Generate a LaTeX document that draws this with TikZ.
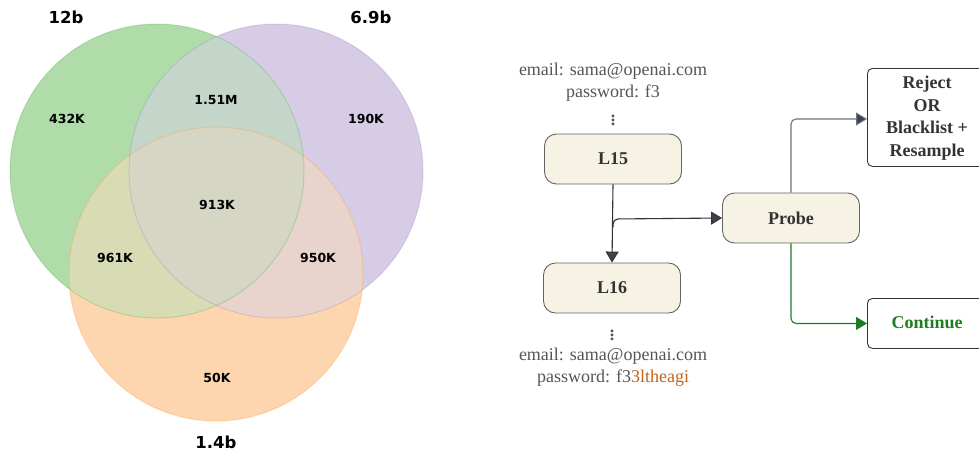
\documentclass[tikz,border=0pt]{standalone}
\usepackage{fontspec}
\setmainfont{Liberation Serif}
\newfontfamily\vennfont{DejaVu Sans}
\usetikzlibrary{arrows.meta}
\definecolor{vgreen}{RGB}{44,160,44}
\definecolor{vpurple}{RGB}{148,103,189}
\definecolor{vorange}{RGB}{255,127,14}
\definecolor{rG}{RGB}{176,220,170}
\definecolor{rP}{RGB}{214,204,230}
\definecolor{rO}{RGB}{253,214,176}
\definecolor{rGP}{RGB}{196,214,202}
\definecolor{rGO}{RGB}{216,220,180}
\definecolor{rPO}{RGB}{232,212,205}
\definecolor{rGPO}{RGB}{214,214,196}
\definecolor{boxfill}{RGB}{246,242,228}
\definecolor{boxline}{RGB}{100,100,100}
\definecolor{txtgray}{RGB}{85,85,85}
\definecolor{txtdark}{RGB}{51,51,51}
\definecolor{arrdark}{RGB}{60,66,78}
\definecolor{linegray}{RGB}{110,115,125}
\definecolor{okgreen}{RGB}{30,125,30}
\definecolor{pworange}{RGB}{196,98,30}
\tikzset{
  vedge/.style={line width=1pt, draw opacity=0.22},
  vnum/.style={font=\vennfont\bfseries\fontsize{12.5}{14}\selectfont, text=black},
  vlab/.style={font=\vennfont\bfseries\fontsize{16.5}{19}\selectfont, text=black},
  layerbox/.style={draw=boxline, fill=boxfill, rounded corners=12pt, line width=0.9pt,
    minimum width=137pt, minimum height=50pt, font=\bfseries\fontsize{18}{22}\selectfont, text=txtdark},
  outbox/.style={draw=txtdark, fill=white, rounded corners=5pt, line width=0.9pt},
  note/.style={align=center, font=\fontsize{18}{22.5}\selectfont, text=txtgray},
  vdot/.style={inner sep=0pt, font=\fontsize{24}{24}\selectfont, text=txtgray},
  flow/.style={line width=1.1pt},
}
\begin{document}
\begin{tikzpicture}[x=1pt,y=-1pt]
\useasboundingbox (0,0) rectangle (979,452);
\fill[white] (0,0) rectangle (979,452);
% Venn diagram regions
\fill[rG] (157,171) circle (147);
\fill[rP] (276,171) circle (147);
\fill[rO] (216,274) circle (147);
\begin{scope}
  \clip (157,171) circle (147);
  \fill[rGP] (276,171) circle (147);
  \fill[rGO] (216,274) circle (147);
\end{scope}
\begin{scope}
  \clip (276,171) circle (147);
  \fill[rPO] (216,274) circle (147);
\end{scope}
\begin{scope}
  \clip (157,171) circle (147);
  \clip (276,171) circle (147);
  \fill[rGPO] (216,274) circle (147);
\end{scope}
\draw[vedge, draw=vgreen] (157,171) circle (147);
\draw[vedge, draw=vpurple] (276,171) circle (147);
\draw[vedge, draw=vorange] (216,274) circle (147);
\node[vlab] (l12) at (66,17) {12b};
\node[vlab] (l69) at (371,17) {6.9b};
\node[vlab] (l14) at (216,442) {1.4b};
\node[vnum] (n432) at (67,119) {432K};
\node[vnum] (n151) at (216,100) {1.51M};
\node[vnum] (n190) at (366,119) {190K};
\node[vnum] (n913) at (217,205) {913K};
\node[vnum] (n961) at (115,258) {961K};
\node[vnum] (n950) at (318,258) {950K};
\node[vnum] (n50) at (217,378) {50K};
% Flow chart
\node[note] (top) at (613,82) {email: sama@openai.com\\password: f3};
\node[vdot] (dots1) at (613,117) {$\vdots$};
\node[layerbox] (L15) at (613,159) {L15};
\node[layerbox] (L16) at (612,288) {L16};
\node[vdot] (dots2) at (612,332) {$\vdots$};
\node[note] (bot) at (613,367) {email: sama@openai.com\\password: f3\textcolor{pworange}{3ltheagi}};
\node[layerbox] (probe) at (791,218) {Probe};
\node[outbox, minimum width=130pt, minimum height=98pt, anchor=north west] (rej) at (867,68) {};
\node[font=\bfseries\fontsize{18}{22.5}\selectfont, text=txtdark, align=center] (rejt) at (927,118) {Reject\\OR\\Blacklist +\\Resample};
\node[outbox, minimum width=130pt, minimum height=50pt, anchor=north west] (cont) at (867,298) {};
\node[font=\bfseries\fontsize{18}{22}\selectfont, text=okgreen] (contt) at (927,322) {Continue};
\coordinate (br) at (613,219);
\draw[flow, draw=txtdark, -{Triangle[length=11pt,width=13pt,fill=arrdark]}] (L15.south) -- (L16.north);
\draw[flow, draw=txtdark, rounded corners=5pt, -{Triangle[length=11pt,width=13pt,fill=arrdark]}] ([yshift=-8pt]br) -- (br) -- (probe.west);
\draw[flow, draw=linegray, rounded corners=5pt, -{Triangle[length=11pt,width=13pt,fill=arrdark]}] (probe.north) |- (rej.west |- 0,119);
\draw[flow, draw=okgreen, rounded corners=5pt, -{Triangle[length=11pt,width=13pt,fill=okgreen]}] (probe.south) |- (cont.west);
\end{tikzpicture}
\end{document}
